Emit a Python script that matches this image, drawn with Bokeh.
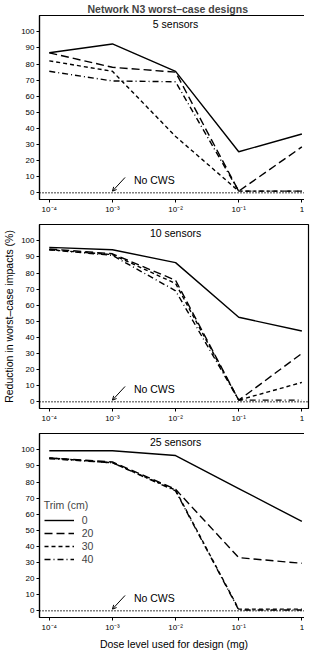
from bokeh.plotting import figure
from bokeh.layouts import column
from bokeh.models import (FixedTicker, Label, Arrow, OpenHead, Legend, LegendItem,
                          Range1d, Span)
from bokeh.embed import file_html
from bokeh.resources import INLINE

# ---------------- data ----------------
doses = [1e-4, 1e-3, 1e-2, 1e-1, 1.0]
dose_labels = ["10⁻⁴", "10⁻³", "10⁻²", "10⁻¹", "1"]
trims = ["0", "20", "30", "40"]
panel_titles = ["5 sensors", "10 sensors", "25 sensors"]
y_ticks = [0, 10, 20, 30, 40, 50, 60, 70, 80, 90, 100]
no_cws_level = 0

s5_trim0 = [87, 92.5, 75.5, 25.5, 36.5]
s5_trim20 = [87, 78, 75, 1, 28.5]
s5_trim30 = [82, 75.5, 35, 1, 1]
s5_trim40 = [75.5, 69.5, 69, 1, 1]

s10_trim0 = [96, 94.5, 86.5, 52.5, 44]
s10_trim20 = [95, 92, 75.5, 1, 30]
s10_trim30 = [94.5, 91.5, 73.5, 1, 12]
s10_trim40 = [94.5, 91, 69, 1, 1]

s25_trim0 = [99.5, 99.5, 96.5, 76, 55.5]
s25_trim20 = [95, 92.5, 75.5, 33, 29.5]
s25_trim30 = [95, 92, 75, 1, 1]
s25_trim40 = [94.5, 92, 74.5, 0.5, 0.5]

panels = [
    [s5_trim0, s5_trim20, s5_trim30, s5_trim40],
    [s10_trim0, s10_trim20, s10_trim30, s10_trim40],
    [s25_trim0, s25_trim20, s25_trim30, s25_trim40],
]

# ---------------- style ----------------
FONT = "Liberation Sans"
dashes = ["solid", "8 4", "4 3", "6 3 1 3"]
LW = 1.4
FRAME_W = 269
FRAME_H = 184


def make_panel(i, top, bottom, title=None, ylabel=None, xlabel=None):
    p = figure(frame_width=FRAME_W, frame_height=FRAME_H, x_axis_type="log",
               x_range=Range1d(10 ** -4.155, 10 ** 0.105),
               y_range=Range1d(-4.2, 110.2),
               output_backend="svg", toolbar_location=None,
               min_border_left=33, min_border_right=2,
               min_border_top=top, min_border_bottom=bottom)
    p.background_fill_color = "white"
    p.border_fill_color = "white"
    p.xgrid.visible = False
    p.ygrid.visible = False
    p.outline_line_color = "black"
    p.outline_line_width = 1.2
    p.outline_line_alpha = 1

    if title:
        p.title.text = title
        p.title.align = "left"
        p.title.offset = 48
        p.title.text_font = FONT
        p.title.text_font_size = "10.5px"
        p.title.text_font_style = "bold"
        p.title.standoff = 1

    for ax in (p.xaxis, p.yaxis):
        ax.axis_line_color = "black"
        ax.axis_line_width = 1.2
        ax.major_tick_in = 0
        ax.major_tick_out = 3
        ax.major_tick_line_color = "black"
        ax.minor_tick_line_color = None
        ax.major_label_text_font = FONT
        ax.major_label_text_font_size = "8px"
        ax.major_label_text_color = "black"
        ax.major_label_standoff = 2
        ax.axis_label_text_font = FONT
        ax.axis_label_text_font_size = "10.5px"
        ax.axis_label_text_font_style = "normal"
        ax.axis_label_text_color = "black"
        ax.axis_label_standoff = 3

    p.xaxis.ticker = FixedTicker(ticks=doses)
    p.xaxis.major_label_overrides = dict(zip(doses, dose_labels))
    p.yaxis.ticker = FixedTicker(ticks=y_ticks)
    if ylabel:
        p.yaxis.axis_label = ylabel
    if xlabel:
        p.xaxis.axis_label = xlabel

    # No CWS baseline
    p.add_layout(Span(location=no_cws_level, dimension="width", line_color="black",
                      line_width=1.3, line_dash="1 2"))
    p.add_layout(Label(x=doses[1] * 10 ** 0.34, y=no_cws_level + 8, text="No CWS",
                       text_font=FONT, text_font_size="10.5px", text_baseline="middle",
                       text_color="black"))
    p.add_layout(Arrow(x_start=doses[1] * 10 ** 0.2, y_start=no_cws_level + 9.5,
                       x_end=doses[1], y_end=no_cws_level + 1,
                       line_width=1, line_color="black",
                       end=OpenHead(size=4, line_width=1, line_color="black")))
    p.add_layout(Label(x=doses[2], y=105, text=panel_titles[i], text_align="center",
                       text_baseline="middle", text_font=FONT, text_font_size="10.5px",
                       text_color="black"))

    renderers = []
    for series, dash in zip(panels[i], dashes):
        r = p.line(doses, series, line_color="black", line_width=LW, line_dash=dash)
        renderers.append(r)
    return p, renderers


p1, _ = make_panel(0, 12, 16, title="Network N3 worst–case designs")
p2, _ = make_panel(1, 8, 16, ylabel="Reduction in worst–case impacts (%)")
p3, rs = make_panel(2, 8, 30, xlabel="Dose level used for design (mg)")

legend = Legend(items=[LegendItem(label=t, renderers=[r]) for t, r in zip(trims, rs)],
                location=(18, 52), title="Trim (cm)",
                title_text_font=FONT, title_text_font_size="10.5px",
                title_text_font_style="normal", title_standoff=3,
                label_text_font=FONT, label_text_font_size="10.5px",
                label_standoff=8, glyph_width=30, glyph_height=10, label_height=10,
                spacing=1, padding=0, margin=0, border_line_color=None,
                background_fill_alpha=0)
p3.add_layout(legend)

layout = column(p1, p2, p3, spacing=0)
open("out.html", "w").write(file_html(layout, INLINE))
